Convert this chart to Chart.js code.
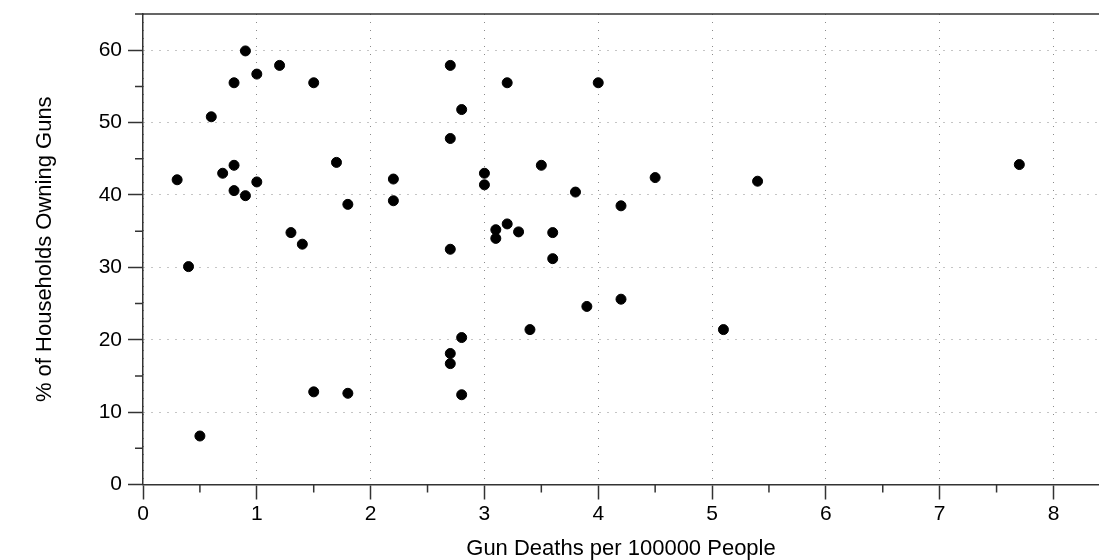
<!DOCTYPE html>
<html lang="en">

<head>
    <meta charset="UTF-8">
    <title>Gun Deaths vs Gun Ownership</title>
    <script src="https://cdn.jsdelivr.net/npm/chart.js"></script>
    <style>
        html, body {
            margin: 0;
            padding: 0;
            background: #ffffff;
        }

        canvas {
            display: block;
        }
    </style>
</head>

<body>

    <canvas id="scatterChart" width="1099" height="560"></canvas>

    <script>
        // gun deaths per 100000 people (x) and % households owning guns (y)
        const deathRates = [
            0.3, 0.4, 0.5, 0.6, 0.7, 0.8, 0.8, 0.8, 0.9, 0.9,
            1.0, 1.0, 1.2, 1.3, 1.4, 1.5, 1.5, 1.7, 1.8, 1.8,
            2.2, 2.2, 2.7, 2.7, 2.7, 2.7, 2.7, 2.8, 2.8, 2.8,
            3.0, 3.0, 3.1, 3.1, 3.2, 3.2, 3.3, 3.4, 3.5, 3.6,
            3.6, 3.8, 3.9, 4.0, 4.2, 4.2, 4.5, 5.1, 5.4, 7.7
        ];
        const ownershipPct = [
            42.1, 30.1, 6.7, 50.8, 43.0, 55.5, 44.1, 40.6, 59.9, 39.9,
            56.7, 41.8, 57.9, 34.8, 33.2, 55.5, 12.8, 44.5, 38.7, 12.6,
            42.2, 39.2, 57.9, 47.8, 32.5, 18.1, 16.7, 51.8, 20.3, 12.4,
            43.0, 41.4, 35.2, 34.0, 55.5, 36.0, 34.9, 21.4, 44.1, 34.8,
            31.2, 40.4, 24.6, 55.5, 38.5, 25.6, 42.4, 21.4, 41.9, 44.2
        ];

        const xTickValues = [0, 1, 2, 3, 4, 5, 6, 7, 8];
        const yTickValues = [0, 10, 20, 30, 40, 50, 60];
        const xMinorTicks = [0.5, 1.5, 2.5, 3.5, 4.5, 5.5, 6.5, 7.5];
        const yMinorTicks = [5, 15, 25, 35, 45, 55, 65];

        const axisColor = '#333333';
        const gridColor = '#8a8a8a';
        const fontFamily = '"Liberation Sans", Arial, Helvetica, sans-serif';

        // minor ticks + top frame line
        const framePlugin = {
            id: 'framePlugin',
            afterDraw(chart) {
                const { ctx, chartArea, scales } = chart;
                ctx.save();
                ctx.strokeStyle = axisColor;
                ctx.lineWidth = 1.5;
                ctx.beginPath();
                xMinorTicks.forEach(v => {
                    const px = scales.x.getPixelForValue(v);
                    ctx.moveTo(px, chartArea.bottom);
                    ctx.lineTo(px, chartArea.bottom + 8);
                });
                yMinorTicks.forEach(v => {
                    const py = scales.y.getPixelForValue(v);
                    ctx.moveTo(chartArea.left, py);
                    ctx.lineTo(chartArea.left - 8, py);
                });
                ctx.moveTo(chartArea.left, chartArea.top);
                ctx.lineTo(chartArea.right, chartArea.top);
                ctx.stroke();
                ctx.restore();
            }
        };

        const points = deathRates.map((x, i) => ({ x: x, y: ownershipPct[i] }));

        const ctx = document.getElementById('scatterChart').getContext('2d');
        new Chart(ctx, {
            type: 'scatter',
            data: {
                datasets: [{
                    data: points,
                    backgroundColor: '#000000',
                    borderColor: '#000000',
                    borderWidth: 1,
                    pointRadius: 5
                }]
            },
            options: {
                responsive: false,
                animation: false,
                layout: {
                    autoPadding: false,
                    padding: { left: 34, top: 14, right: 0, bottom: 0 }
                },
                plugins: {
                    legend: { display: false },
                    tooltip: { enabled: false }
                },
                scales: {
                    x: {
                        type: 'linear',
                        min: 0,
                        max: 8.4,
                        afterBuildTicks: s => { s.ticks = xTickValues.map(v => ({ value: v })); },
                        afterFit: s => {
                            s.height = 75.5;
                            s.paddingLeft = 0;
                            s.paddingRight = 0;
                        },
                        border: { color: axisColor, width: 1.5, dash: [1, 7] },
                        grid: {
                            color: gridColor,
                            tickLength: 15,
                            tickColor: axisColor,
                            tickWidth: 1.5,
                            tickBorderDash: []
                        },
                        ticks: {
                            color: '#000000',
                            font: { family: fontFamily, size: 21 },
                            padding: 2,
                            maxRotation: 0,
                            autoSkip: false
                        },
                        title: {
                            display: true,
                            text: 'Gun Deaths per 100000 People',
                            color: '#000000',
                            font: { family: fontFamily, size: 22, lineHeight: 1 },
                            padding: 0
                        }
                    },
                    y: {
                        type: 'linear',
                        min: 0,
                        max: 65,
                        afterBuildTicks: s => { s.ticks = yTickValues.map(v => ({ value: v })); },
                        afterFit: s => {
                            s.width = 143 - 34;
                            s.paddingTop = 0;
                            s.paddingBottom = 0;
                        },
                        border: { color: axisColor, width: 1.5, dash: [1, 7] },
                        grid: {
                            color: gridColor,
                            tickLength: 15,
                            tickColor: axisColor,
                            tickWidth: 1.5,
                            tickBorderDash: []
                        },
                        ticks: {
                            color: '#000000',
                            font: { family: fontFamily, size: 21 },
                            padding: 6
                        },
                        title: {
                            display: true,
                            text: '% of Households Owning Guns',
                            color: '#000000',
                            font: { family: fontFamily, size: 22, lineHeight: 1 },
                            padding: 0
                        }
                    }
                }
            },
            plugins: [framePlugin]
        });
    </script>

</body>

</html>
